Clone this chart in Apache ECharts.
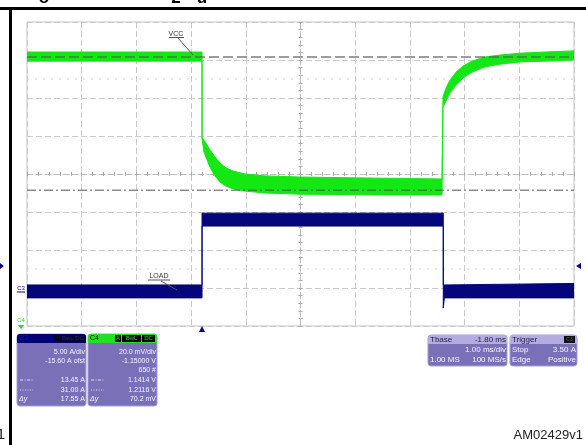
<!DOCTYPE html>
<html><head><meta charset="utf-8">
<script src="https://cdn.jsdelivr.net/npm/echarts@6/dist/echarts.min.js"></script>
<style>html,body{margin:0;padding:0;background:#fff}#c{width:586px;height:445px}</style>
</head><body><div id="c"></div>
<script>
// Oscilloscope graticule: 10 x 8 divisions, centred on (0,0). Values in divisions.
// C4 (VCC, green) envelope of the noisy trace
const greenT  = [-5.00, -1.80, -1.80, -1.764, -1.709, -1.654, -1.563, -1.472, -1.362, -1.234, -1.015, -0.649, -0.009, 1.453, 2.587, 2.605, 2.66, 2.733, 2.843, 2.971, 3.135, 3.373, 3.647, 4.013, 4.47, 5.00];
const greenHi = [ 3.21,  3.21,  0.97,  0.89,   0.76,   0.63,   0.45,   0.29,   0.16,   0.08,   0.00,  -0.05,  -0.08, -0.11, -0.13, 2.03, 2.26, 2.47, 2.68, 2.84, 2.97, 3.08, 3.13, 3.18, 3.21, 3.24];
const greenLo = [ 2.97,  2.97,  0.92,  0.58,   0.37,   0.18,  -0.05,  -0.21,  -0.32,  -0.39,  -0.45,  -0.50,  -0.53, -0.55, -0.55, 1.76, 1.92, 2.13, 2.34, 2.53, 2.68, 2.82, 2.89, 2.95, 2.97, 3.00];
// C3 (LOAD current, navy) envelope
const blueT  = [-5.00, -1.80, -1.80, 2.61, 2.61, 2.63, 5.00];
const blueHi = [-2.92, -2.92, -1.03, -1.03, -2.92, -2.92, -2.88];
const blueLo = [-3.26, -3.26, -1.37, -1.37, -3.53, -3.26, -3.26];
// Horizontal cursors (divisions): dashed = 1.2116 V / 31.00 A, dash-dot = 1.1414 V / 13.45 A
const cursorDashed = 3.08;
const cursorDashDot = -0.43;
const faintLevels = [2.5, -2.5];

const GREEN = '#14e814';
const NAVY = '#06067c';
const BOX = '#7a70b8';
const F = '"Liberation Sans", Arial, sans-serif';

function band(t, hi, lo, color, z) {
  return {
    type: 'custom', coordinateSystem: 'cartesian2d', xAxisIndex: 0, yAxisIndex: 0,
    z: z, silent: true, clip: true,
    data: t.map((x, i) => [x, hi[i], lo[i]]),
    encode: { x: 0, y: [1, 2] },
    renderItem: function (params, api) {
      if (params.dataIndex !== 0) return null;
      const pts = [];
      for (let i = 0; i < t.length; i++) pts.push(api.coord([t[i], hi[i]]));
      for (let i = t.length - 1; i >= 0; i--) pts.push(api.coord([t[i], lo[i]]));
      return { type: 'polygon', shape: { points: pts, smooth: 0 }, style: { fill: color, stroke: color, lineWidth: 1 } };
    }
  };
}
function hLine(level, style, z) {
  return { type: 'line', xAxisIndex: 0, yAxisIndex: 0, data: [[-5, level], [5, level]], symbol: 'none',
    silent: true, z: z, lineStyle: style };
}

function T(x, y, s, o) {
  o = o || {};
  return { type: 'text', x: x, y: y, z: 50, scaleX: o.sx || 1,
    style: { text: s, fill: o.fill || '#f4f2ff', font: o.font || ('7px ' + F), align: o.align || 'right', verticalAlign: 'middle' } };
}
function R(x, y, w, h, fill, r, stroke) {
  return { type: 'rect', z: 40, shape: { x: x, y: y, width: w, height: h, r: r || 0 },
    style: { fill: fill, stroke: stroke || null, lineWidth: 1 } };
}
function L(x1, y1, x2, y2, stroke, dash, w) {
  return { type: 'line', z: 50, shape: { x1: x1, y1: y1, x2: x2, y2: y2 },
    style: { stroke: stroke, lineWidth: w || 1, lineDash: dash || null } };
}

const graphics = [
  // frame of the datasheet figure
  R(0, 7, 586, 3, '#000'),
  R(9, 7, 3, 438, '#000'),
  T(44, -2, 'o', { fill: '#000', font: 'bold 17px ' + F, align: 'center' }),
  T(176, -2, '2', { fill: '#000', font: 'bold 17px ' + F, align: 'center' }),
  T(202, -2, 'u', { fill: '#000', font: 'bold 17px ' + F, align: 'center' }),
  T(5, 435, '1', { fill: '#222', font: '15px ' + F, align: 'right' }),
  T(583, 435, 'AM02429v1', { fill: '#222', font: '13px ' + F, align: 'right' }),
  // trace labels
  T(176, 34, 'VCC', { fill: '#333', font: '7px ' + F, align: 'center' }),
  L(169, 37.5, 184, 37.5, '#555'),
  L(178, 38, 193, 55, '#555'),
  T(159, 276, 'LOAD', { fill: '#333', font: '7px ' + F, align: 'center' }),
  L(148, 280, 170, 280, '#555'),
  L(161, 281, 177, 290, '#555'),
  // markers
  { type: 'polygon', z: 50, shape: { points: [[199, 332], [205, 332], [202, 326]] }, style: { fill: NAVY } },
  { type: 'polygon', z: 50, shape: { points: [[576, 266], [581, 263], [581, 269]] }, style: { fill: NAVY } },
  { type: 'polygon', z: 50, shape: { points: [[0, 263], [4, 266], [0, 269]] }, style: { fill: NAVY } },
  T(21, 288, 'C3', { fill: NAVY, font: '6px ' + F, align: 'center' }),
  L(17, 292, 25, 292, NAVY),
  T(21, 320, 'C4', { fill: GREEN, font: '6px ' + F, align: 'center' }),
  { type: 'polygon', z: 50, shape: { points: [[18, 325], [24, 325], [21, 329]] }, style: { fill: GREEN } },

  // C3 box
  R(17, 334, 69, 72, BOX, 3, '#a49ed4'),
  R(17, 334, 69, 9, '#00007a', [3, 3, 0, 0]),
  T(19, 338.5, 'C3', { fill: '#1c1ca0', align: 'left' }),
  R(53, 335, 32, 7, '#02022a'),
  T(84, 338.5, 'BwL DC', { fill: '#24248a', align: 'right', font: '6px ' + F }),
  T(85, 352, '5.00 A/div'),
  T(85, 361, '-15.60 A ofst'),
  T(85, 380, '13.45 A'),
  T(85, 390, '31.00 A'),
  T(85, 399.5, '17.55 A'),
  L(20, 380, 33, 380, '#dcd8f4', [3, 1.5, 1, 1.5]),
  L(20, 390, 33, 390, '#dcd8f4', [1, 1.5]),
  T(19, 399.5, 'Δy', { align: 'left', font: 'italic 7px ' + F }),

  // C4 box
  R(88, 334, 69, 72, BOX, 3, '#a49ed4'),
  R(88, 334, 69, 9, '#22e022', [3, 3, 0, 0]),
  T(90, 338.5, 'C4', { fill: '#000', align: 'left' }),
  R(115, 335, 6, 7, '#000'),
  T(118, 338.5, 'A', { fill: '#22e022', align: 'center', font: '6px ' + F }),
  R(122, 335, 19, 7, '#000'),
  T(131.5, 338.5, 'BwL', { fill: '#22e022', align: 'center', font: '6px ' + F }),
  R(142, 335, 13, 7, '#000'),
  T(148.5, 338.5, 'DC', { fill: '#22e022', align: 'center', font: '6px ' + F }),
  T(156, 352, '20.0 mV/div'),
  T(156, 361, '-1.15000 V'),
  T(156, 370.5, '650 #'),
  T(156, 380, '1.1414 V'),
  T(156, 390, '1.2116 V'),
  T(156, 399.5, '70.2 mV'),
  L(91, 380, 104, 380, '#dcd8f4', [3, 1.5, 1, 1.5]),
  L(91, 390, 104, 390, '#dcd8f4', [1, 1.5]),
  T(90, 399.5, 'Δy', { align: 'left', font: 'italic 7px ' + F }),

  // Tbase box
  R(428, 335, 79, 31, BOX, 3, '#a49ed4'),
  R(428, 335, 79, 9, '#b4ace0', [3, 3, 0, 0]),
  T(430, 339.5, 'Tbase', { fill: '#1e1e3a', align: 'left', font: '8px ' + F }),
  T(506, 339.5, '-1.80 ms', { fill: '#1e1e3a', font: '8px ' + F }),
  T(506, 349.5, '1.00 ms/div', { font: '8px ' + F }),
  T(430, 360, '1.00 MS', { align: 'left', font: '8px ' + F }),
  T(506, 360, '100 MS/s', { font: '8px ' + F }),

  // Trigger box
  R(510, 335, 67, 31, BOX, 3, '#a49ed4'),
  R(510, 335, 67, 9, '#b4ace0', [3, 3, 0, 0]),
  T(512, 339.5, 'Trigger', { fill: '#1e1e3a', align: 'left', font: '8px ' + F }),
  R(564, 336, 11, 7, '#111'),
  T(569.5, 339.5, 'C3', { fill: '#5a5aa0', align: 'center', font: '5px ' + F }),
  T(512, 349.5, 'Stop', { align: 'left', font: '8px ' + F }),
  T(576, 349.5, '3.50 A', { font: '8px ' + F }),
  T(512, 360, 'Edge', { align: 'left', font: '8px ' + F }),
  T(576, 360, 'Positive', { font: '8px ' + F })
];

const tickStyle = { color: '#aaaaaa', width: 1 };
const option = {
  animation: false,
  backgroundColor: '#ffffff',
  grid: { left: 27, top: 22, right: 12, bottom: 119, show: true, borderColor: '#c4c4c4', borderWidth: 1, backgroundColor: 'transparent' },
  xAxis: [
    { type: 'value', min: -5, max: 5, interval: 1, position: 'bottom',
      axisLine: { show: true, onZero: true, lineStyle: { color: '#bcbcbc', width: 1, type: [6, 3] } },
      axisTick: { show: true, inside: true, length: 2, lineStyle: tickStyle },
      minorTick: { show: true, splitNumber: 5, length: 2, lineStyle: tickStyle },
      axisLabel: { show: false },
      splitLine: { show: true, lineStyle: { color: '#cbcbcb', width: 1, type: [6, 3] } } },
    { type: 'value', min: -5, max: 5, interval: 1, position: 'bottom',
      axisLine: { show: true, onZero: true, onZeroAxisIndex: 0, lineStyle: { opacity: 0 } },
      axisTick: { show: true, inside: false, length: 2, lineStyle: tickStyle },
      minorTick: { show: true, splitNumber: 5, length: 2, lineStyle: tickStyle },
      axisLabel: { show: false }, splitLine: { show: false } }
  ],
  yAxis: [
    { type: 'value', min: -4, max: 4, interval: 1, position: 'left',
      axisLine: { show: true, onZero: true, lineStyle: { color: '#bcbcbc', width: 1, type: [6, 3] } },
      axisTick: { show: true, inside: true, length: 2, lineStyle: tickStyle },
      minorTick: { show: true, splitNumber: 5, length: 2, lineStyle: tickStyle },
      axisLabel: { show: false },
      splitLine: { show: true, lineStyle: { color: '#cbcbcb', width: 1, type: [6, 3] } } },
    { type: 'value', min: -4, max: 4, interval: 1, position: 'left',
      axisLine: { show: true, onZero: true, onZeroAxisIndex: 0, lineStyle: { opacity: 0 } },
      axisTick: { show: true, inside: false, length: 2, lineStyle: tickStyle },
      minorTick: { show: true, splitNumber: 5, length: 2, lineStyle: tickStyle },
      axisLabel: { show: false }, splitLine: { show: false } }
  ],
  series: [
    ...faintLevels.map(v => hLine(v, { color: '#d2d2d2', width: 1, type: [2, 6] }, 1)),
    band(greenT, greenHi, greenLo, GREEN, 3),
    band(blueT, blueHi, blueLo, NAVY, 3),
    hLine(cursorDashed, { color: 'rgba(90,90,90,0.6)', width: 2, type: [10, 4] }, 6),
    hLine(cursorDashDot, { color: 'rgba(80,80,80,0.65)', width: 1.5, type: [9, 3, 2, 3] }, 6)
  ],
  graphic: graphics
};
const chart = echarts.init(document.getElementById('c'), null, { renderer: 'canvas' });
chart.setOption(option);
</script></body></html>
